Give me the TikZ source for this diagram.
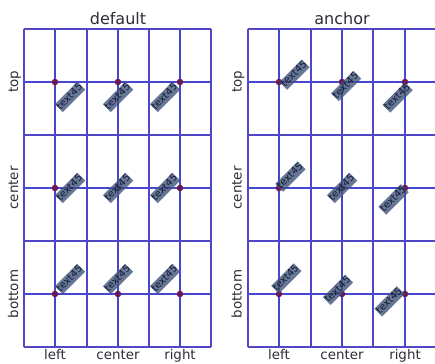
\documentclass[tikz,border=0pt]{standalone}
\usepackage{fontspec}
\setmainfont{DejaVu Sans}
\definecolor{lineblue}{RGB}{70,70,210}
\definecolor{framepurple}{RGB}{80,70,200}
\definecolor{dotpurple}{RGB}{105,25,85}
\definecolor{tagfill}{RGB}{65,85,125}
\definecolor{tagtext}{RGB}{20,25,45}
\definecolor{labelgray}{RGB}{45,45,55}
\begin{document}
\begin{tikzpicture}[x=1pt,y=1pt,
  gridline/.style={draw=lineblue, line width=2pt},
  frameline/.style={draw=framepurple, line width=2pt},
  dot/.style={circle, fill=dotpurple, inner sep=0pt, minimum size=6.5pt},
  tag/.style={fill=tagfill, fill opacity=0.8, text opacity=1, text=tagtext,
    inner sep=0pt, text height=0.8em, text depth=0.3em,
    font=\fontsize{9.8}{10}\selectfont, rotate=45},
  title/.style={font=\fontsize{16}{18}\selectfont, text=labelgray, inner sep=0pt, anchor=base},
  ticklabel/.style={font=\fontsize{13.4}{15}\selectfont, text=labelgray, inner sep=0pt, anchor=base},
]
\useasboundingbox (0,0) rectangle (435,363);
\clip (0,0) rectangle (435,363);

% center lines of the subplots
\foreach \x in {55,118,180,279,342,405}
  \draw[gridline] (\x,16) -- (\x,334);
\foreach \y in {69,175,281}{
  \draw[gridline] (24,\y) -- (211,\y);
  \draw[gridline] (248,\y) -- (436,\y);
}
% subplot frames
\foreach \x in {24,87,149,211,248,311,373,436}
  \draw[frameline] (\x,16) -- (\x,334);
\foreach \y in {16,122,228,334}{
  \draw[frameline] (24,\y) -- (211,\y);
  \draw[frameline] (248,\y) -- (436,\y);
}

% titles
\node[title] (tdef) at (118,338) {default};
\node[title] (tanc) at (342,338) {anchor};

% row labels
\foreach \va/\y in {top/281,center/175,bottom/69}{
  \node[ticklabel, rotate=90] (rowL-\va) at (18,\y) {\va};
  \node[ticklabel, rotate=90] (rowR-\va) at (241.5,\y) {\va};
}
% column labels
\foreach \ha/\xl/\xr in {left/55/279,center/118/342,right/180/405}{
  \node[ticklabel] (colL-\ha) at (\xl,3) {\ha};
  \node[ticklabel] (colR-\ha) at (\xr,3) {\ha};
}

% default mode: the rotated bounding box is aligned with the point
\foreach \va/\y/\j in {top/281/0,center/175/1,bottom/69/2}{
  \foreach \ha/\x/\i in {left/55/0,center/118/1,right/180/2}{
    \coordinate (L-\va-\ha) at (\x,\y);
    \node[dot] (Ldot-\va-\ha) at (L-\va-\ha) {};
    \node[tag] (Ltxt-\va-\ha) at ({\x+(1-\i)*15},{\y+(\j-1)*15}) {text45};
  }
}

% anchor mode: the text is aligned first, then rotated about the point
\foreach \va/\ha/\x/\y/\anc in {top/left/279/281/north west, top/center/342/281/north, top/right/405/281/north east,
  center/left/279/175/west, center/center/342/175/center, center/right/405/175/east,
  bottom/left/279/69/south west, bottom/center/342/69/south, bottom/right/405/69/south east}{
  \coordinate (R-\va-\ha) at (\x,\y);
  \node[dot] (Rdot-\va-\ha) at (R-\va-\ha) {};
  \node[tag, anchor=\anc] (Rtxt-\va-\ha) at (R-\va-\ha) {text45};
}
\end{tikzpicture}
\end{document}
